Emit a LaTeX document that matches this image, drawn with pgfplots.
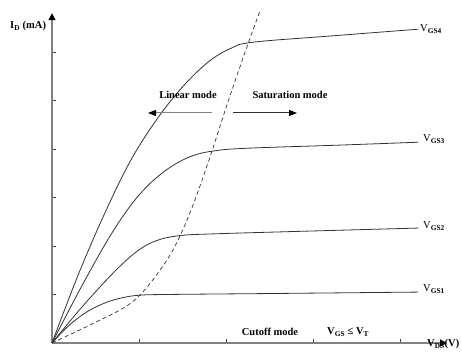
\documentclass[border=0pt]{standalone}
\usepackage{fontspec}
\setmainfont{Liberation Serif}
\usepackage{pgfplots}
\pgfplotsset{compat=1.18}
\usetikzlibrary{arrows.meta}
\definecolor{curve}{RGB}{50,50,50}
\definecolor{axisgray}{RGB}{130,130,130}
\begin{document}
\begin{tikzpicture}[x=1pt,y=1pt]
\useasboundingbox (0,0) rectangle (462,356);
\begin{axis}[
  at={(52pt,13pt)}, anchor=south west,
  scale only axis, width=395pt, height=329.8pt,
  xmin=0, xmax=4.54, ymin=0, ymax=6.8,
  axis lines=left, clip=false,
  xtick={1,2,3,4}, ytick={1,2,3,4,5,6},
  xticklabels={}, yticklabels={},
  tick align=inside, major tick length=4pt,
  tick style={black!75, line width=0.6pt},
  axis line style={axisgray, line width=1.3pt, -{Triangle[length=7pt,width=7pt,black]}},
]
% V_GS1
\addplot[smooth, tension=0.6, curve, line width=0.8pt, no markers] coordinates {
(0,0) (0.2,0.37) (0.4,0.64) (0.6,0.82) (0.8,0.93) (1.0,0.985) (1.3,1.0) (2.5,1.02) (4.21,1.05)};
% V_GS2
\addplot[smooth, tension=0.6, curve, line width=0.8pt, no markers] coordinates {
(0,0) (0.3,0.65) (0.6,1.25) (0.85,1.7) (1.05,1.98) (1.25,2.14) (1.5,2.22) (1.85,2.25) (2.8,2.3) (4.21,2.37)};
% V_GS3
\addplot[smooth, tension=0.6, curve, line width=0.8pt, no markers] coordinates {
(0,0) (0.35,1.2) (0.7,2.3) (1.0,3.05) (1.3,3.55) (1.6,3.85) (1.9,3.97) (2.3,4.02) (3.3,4.08) (4.21,4.14)};
% V_GS4
\addplot[smooth, tension=0.6, curve, line width=0.8pt, no markers] coordinates {
(0,0) (0.3,1.4) (0.6,2.65) (0.9,3.75) (1.2,4.6) (1.5,5.28) (1.8,5.8) (2.05,6.07) (2.3,6.2) (3.2,6.33) (4.21,6.47)};
% boundary (dashed)
\addplot[smooth, tension=0.6, curve, line width=0.7pt, dash pattern=on 4pt off 3pt, no markers] coordinates {
(0,0) (0.4,0.34) (0.8,0.7) (1.0,0.97) (1.2,1.4) (1.4,1.95) (1.6,2.75) (1.8,3.75) (2.0,4.85) (2.2,5.9) (2.39,6.85)};
\end{axis}
\tikzset{lbl/.style={font=\fontsize{10.5}{12}\selectfont\bfseries, inner sep=0pt}}
\node[lbl, anchor=west] at (10,330) {I\textsubscript{D} (mA)};
\node[lbl, anchor=west] at (420,327) {\mdseries V\textsubscript{\bfseries GS4}};
\node[lbl, anchor=west] at (423,217) {\mdseries V\textsubscript{\bfseries GS3}};
\node[lbl, anchor=west] at (423,130) {\mdseries V\textsubscript{\bfseries GS2}};
\node[lbl, anchor=west] at (423,67) {\mdseries V\textsubscript{\bfseries GS1}};
\node[lbl] at (188,261) {Linear mode};
\node[lbl] at (290,261) {Saturation mode};
\draw[axisgray, line width=1pt, -{Triangle[length=8pt,width=6pt,black]}] (212,243) -- (148,243);
\draw[curve, line width=1pt, -{Triangle[length=8pt,width=6pt,black]}] (233,243) -- (297,243);
\node[lbl] at (270,24) {Cutoff mode};
\node[lbl, anchor=west] at (327,24) {V\textsubscript{GS} ≤ V\textsubscript{T}};
\node[lbl, anchor=west] at (427,12) {V\textsubscript{DS}(V)};
\end{tikzpicture}
\end{document}
